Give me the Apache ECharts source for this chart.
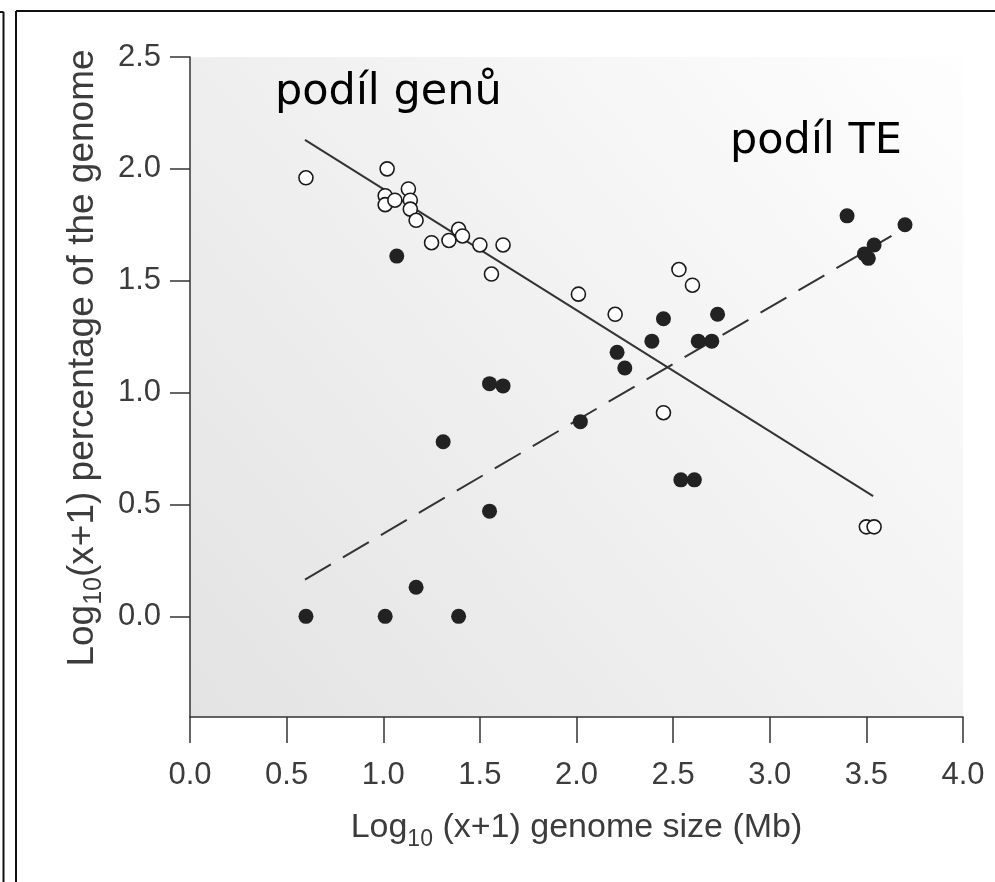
<!DOCTYPE html>
<html><head><meta charset="utf-8">
<script src="https://cdn.jsdelivr.net/npm/echarts@6/dist/echarts.min.js"></script>
<style>html,body{margin:0;padding:0;background:#fff}#c{width:995px;height:882px}</style>
</head><body><div id="c"></div>
<script>
// tick values
const xTicks = [0, 0.5, 1, 1.5, 2, 2.5, 3, 3.5, 4];
const yTicks = [0, 0.5, 1, 1.5, 2, 2.5];
// open circles: gene share
const genesX = [0.60, 1.02, 1.01, 1.01, 1.06, 1.13, 1.14, 1.14, 1.17, 1.25, 1.34, 1.39, 1.41, 1.50, 1.62, 1.56, 2.01, 2.20, 2.53, 2.60, 2.45, 3.50, 3.54];
const genesY = [1.96, 2.00, 1.88, 1.84, 1.86, 1.91, 1.86, 1.82, 1.77, 1.67, 1.68, 1.73, 1.70, 1.66, 1.66, 1.53, 1.44, 1.35, 1.55, 1.48, 0.91, 0.40, 0.40];
// filled circles: TE share
const teX = [0.60, 1.01, 1.39, 1.17, 1.07, 1.31, 1.55, 1.62, 1.55, 2.02, 2.21, 2.25, 2.39, 2.45, 2.54, 2.61, 2.63, 2.70, 2.73, 3.40, 3.49, 3.51, 3.54, 3.70];
const teY = [0.00, 0.00, 0.00, 0.13, 1.61, 0.78, 1.04, 1.03, 0.47, 0.87, 1.18, 1.11, 1.23, 1.33, 0.61, 0.61, 1.23, 1.23, 1.35, 1.79, 1.62, 1.60, 1.66, 1.75];
// regression lines
const genesFitX = [0.595, 3.535];
const genesFitY = [2.13, 0.537];
const teFitX = [0.595, 3.63];
const teFitY = [0.164, 1.70];
// annotations
const labelGenes = 'podíl genů';
const labelTE = 'podíl TE';

const zip = (a, b) => a.map((v, i) => [v, b[i]]);
const fmt = v => Number(v).toFixed(1);
const axisCol = '#333';
const txtCol = '#3c3c3c';
const ff = '"Liberation Sans", Arial, sans-serif';

const chart = echarts.init(document.getElementById('c'), null, {renderer: 'canvas'});
chart.setOption({
  animation: false,
  backgroundColor: '#ffffff',
  grid: {
    left: 190, right: 32, top: 57, bottom: 165,
    containLabel: false, outerBoundsMode: 'none',
    show: true, borderWidth: 0,
    backgroundColor: new echarts.graphic.LinearGradient(0, 1, 1, 0, [
      {offset: 0, color: '#e3e3e3'},
      {offset: 0.55, color: '#f2f2f2'},
      {offset: 1, color: '#fefefe'}
    ])
  },
  xAxis: {
    type: 'value', min: 0, max: 4, interval: 0.5,
    axisLine: {show: true, onZero: false, lineStyle: {color: axisCol, width: 1.5}},
    axisTick: {show: true, inside: false, length: 26, lineStyle: {color: axisCol, width: 1.5}},
    splitLine: {show: false},
    axisLabel: {formatter: fmt, fontSize: 31, color: txtCol, fontFamily: ff, margin: 43},
    name: '{a|Log}{s|10}{a| (x+1) genome size (Mb)}',
    nameLocation: 'middle', nameGap: 88,
    nameTextStyle: {
      fontFamily: ff, color: txtCol,
      rich: {
        a: {fontSize: 34, fontFamily: ff, color: txtCol, lineHeight: 46, verticalAlign: 'middle'},
        s: {fontSize: 23, fontFamily: ff, color: txtCol, lineHeight: 23, verticalAlign: 'bottom'}
      }
    }
  },
  yAxis: {
    type: 'value', min: -0.45, max: 2.5,
    axisLine: {show: true, onZero: false, lineStyle: {color: axisCol, width: 1.5}},
    axisTick: {show: true, inside: false, length: 20, customValues: yTicks, lineStyle: {color: axisCol, width: 1.5}},
    splitLine: {show: false},
    axisLabel: {formatter: fmt, fontSize: 31, color: txtCol, fontFamily: ff, margin: 29, customValues: yTicks},
    name: '{a|Log}{s|10}{a|(x+1) percentage of the genome}',
    nameLocation: 'middle', nameGap: 76, nameRotate: 90,
    nameTextStyle: {
      fontFamily: ff, color: txtCol, padding: [0, 0, 0, 58],
      rich: {
        a: {fontSize: 37, fontFamily: ff, color: txtCol, lineHeight: 48, verticalAlign: 'middle'},
        s: {fontSize: 25, fontFamily: ff, color: txtCol, lineHeight: 25, verticalAlign: 'bottom'}
      }
    }
  },
  series: [
    {
      type: 'line', data: zip(genesFitX, genesFitY), symbol: 'none', z: 1,
      lineStyle: {color: '#333', width: 2}
    },
    {
      type: 'line', data: zip(teFitX, teFitY), symbol: 'none', z: 1,
      lineStyle: {color: '#333', width: 2, type: [30, 14]}
    },
    {
      type: 'scatter', data: zip(teX, teY), symbol: 'circle', symbolSize: 15, z: 3,
      itemStyle: {color: '#222', borderColor: '#222', borderWidth: 0, opacity: 1}
    },
    {
      type: 'scatter', data: zip(genesX, genesY), symbol: 'circle', symbolSize: 14, z: 4,
      itemStyle: {color: '#ffffff', borderColor: '#1a1a1a', borderWidth: 1.6, opacity: 1}
    }
  ],
  graphic: [
    {type: 'line', shape: {x1: 16, y1: 11, x2: 995, y2: 11}, style: {stroke: '#111', lineWidth: 2}},
    {type: 'line', shape: {x1: 16, y1: 11, x2: 16, y2: 882}, style: {stroke: '#111', lineWidth: 2}},
    {type: 'line', shape: {x1: 3.5, y1: 12, x2: 3.5, y2: 882}, style: {stroke: '#111', lineWidth: 2}},
    {type: 'line', shape: {x1: 0, y1: 12, x2: 3.5, y2: 12}, style: {stroke: '#111', lineWidth: 2}},
    {type: 'text', left: 275, top: 71, z: 10,
      style: {text: labelGenes, fontSize: 43, fontFamily: '"Comic Sans MS", "DejaVu Sans", sans-serif', fill: '#000'}},
    {type: 'text', left: 730, top: 120, z: 10,
      style: {text: labelTE, fontSize: 43, fontFamily: '"Comic Sans MS", "DejaVu Sans", sans-serif', fill: '#000'}}
  ]
});
</script>
</body></html>
